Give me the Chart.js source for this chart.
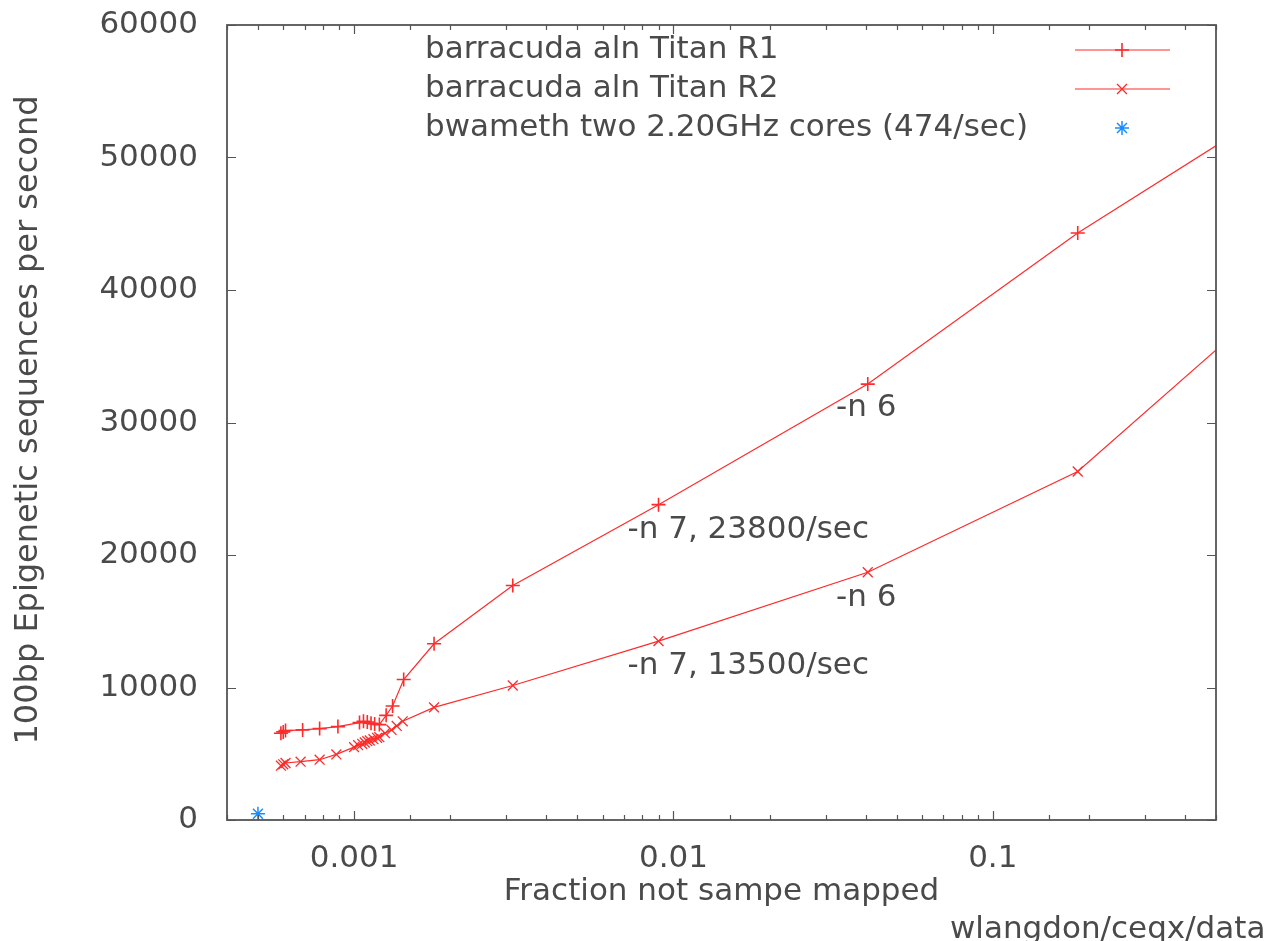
<!DOCTYPE html>
<html>
<head>
<meta charset="utf-8">
<script src="https://cdn.jsdelivr.net/npm/chart.js@4.4.1/dist/chart.umd.min.js"></script>
<style>
  html, body { margin: 0; padding: 0; background: #fff; }
</style>
</head>
<body>
<canvas id="chart" width="1278" height="941"></canvas>
<script>
// fraction of reads not mapped the same way, and sequences per second
const r1Frac = [0.00059, 0.0006, 0.00061, 0.00069, 0.00078, 0.00089, 0.00104, 0.00107, 0.0011, 0.00113, 0.00116, 0.0012, 0.00126, 0.00132, 0.00143, 0.00178, 0.00314, 0.00898, 0.0406, 0.1845, 0.8]
const r1Rate = [6550, 6650, 6750, 6800, 6900, 7050, 7350, 7450, 7400, 7300, 7250, 7200, 7900, 8600, 10600, 13300, 17700, 23800, 32900, 44300, 54000]

const r2Frac = [0.00059, 0.0006, 0.00061, 0.00068, 0.00078, 0.00088, 0.001, 0.00103, 0.00106, 0.00108, 0.0011, 0.00112, 0.00115, 0.00118, 0.0012, 0.00125, 0.00131, 0.00136, 0.00142, 0.00178, 0.00314, 0.00898, 0.0406, 0.1845, 0.8]
const r2Rate = [4100, 4200, 4300, 4400, 4550, 4950, 5500, 5650, 5750, 5850, 5950, 6000, 6100, 6200, 6250, 6550, 6800, 7100, 7450, 8500, 10150, 13500, 18700, 26300, 39800]

const bwaFrac = [0.0005]
const bwaRate = [474]

const seriesNames = ['barracuda aln Titan R1', 'barracuda aln Titan R2', 'bwameth two 2.20GHz cores (474/sec)']

const noteText = ['-n 6', '-n 7, 23800/sec', '-n 6', '-n 7, 13500/sec']
const noteFrac = [0.0323, 0.00718, 0.0323, 0.00718]
const noteRate = [31100, 21900, 16750, 11600]

const xTitle = 'Fraction not sampe mapped'
const yTitle = '100bp Epigenetic sequences per second'
const footText = 'wlangdon/ceqx/data'

const FONT = '"DejaVu Sans", sans-serif'
const TEXT = '#4a4a4a'
const RED = '#ff2a2a'
const BLUE = '#1a8cff'

function pts(xs, ys) { return xs.map((x, i) => ({ x, y: ys[i] })) }

function isDecade(v) {
  const l = Math.log10(v)
  return Math.abs(l - Math.round(l)) < 1e-6
}

const framePlugin = {
  id: 'frame',
  afterDatasetsDraw(chart) {
    const { ctx, chartArea: a, scales } = chart
    ctx.save()
    ctx.strokeStyle = '#555'
    ctx.lineWidth = 1.2
    ctx.beginPath()
    scales.x.ticks.forEach(t => {
      const px = Math.round(scales.x.getPixelForValue(t.value)) + 0.5
      const len = isDecade(t.value) ? 9 : 5
      ctx.moveTo(px, a.bottom); ctx.lineTo(px, a.bottom - len)
      ctx.moveTo(px, a.top); ctx.lineTo(px, a.top + len)
    })
    scales.y.ticks.forEach(t => {
      const py = Math.round(scales.y.getPixelForValue(t.value)) + 0.5
      ctx.moveTo(a.left, py); ctx.lineTo(a.left + 9, py)
      ctx.moveTo(a.right, py); ctx.lineTo(a.right - 9, py)
    })
    ctx.stroke()
    ctx.lineWidth = 1.8
    ctx.strokeRect(a.left, a.top, a.right - a.left, a.bottom - a.top)

    // notes placed at data coordinates
    ctx.fillStyle = TEXT
    ctx.font = '31px ' + FONT
    ctx.textAlign = 'left'
    ctx.textBaseline = 'middle'
    noteText.forEach((s, i) => {
      ctx.fillText(s, scales.x.getPixelForValue(noteFrac[i]), scales.y.getPixelForValue(noteRate[i]))
    })

    // legend
    const rows = [50, 89, 128]
    chart.data.datasets.forEach((ds, i) => {
      ctx.fillStyle = TEXT
      ctx.textBaseline = 'middle'
      ctx.fillText(ds.label, 425, rows[i])
      ctx.strokeStyle = ds.borderColor
      ctx.fillStyle = ds.borderColor
      if (ds.showLine) {
        ctx.lineWidth = ds.borderWidth
        ctx.beginPath()
        ctx.moveTo(1075, rows[i]); ctx.lineTo(1170, rows[i])
        ctx.stroke()
      }
      ctx.lineWidth = ds.pointBorderWidth
      Chart.helpers.drawPoint(ctx, {
        pointStyle: ds.pointStyle, radius: ds.pointRadius, borderWidth: ds.pointBorderWidth
      }, 1122, rows[i])
    })

    // axis titles
    ctx.fillStyle = TEXT
    ctx.textAlign = 'center'
    ctx.textBaseline = 'alphabetic'
    ctx.fillText(xTitle, (a.left + a.right) / 2, 900)
    ctx.textAlign = 'left'
    ctx.fillText(footText, 950, 938)
    ctx.font = '32px ' + FONT
    ctx.translate(37, 420)
    ctx.rotate(-Math.PI / 2)
    ctx.textAlign = 'center'
    ctx.fillText(yTitle, 0, 0)
    ctx.restore()
  }
}

new Chart(document.getElementById('chart'), {
  type: 'scatter',
  data: {
    datasets: [
      { label: seriesNames[0], data: pts(r1Frac, r1Rate), showLine: true, borderColor: RED, backgroundColor: RED,
        borderWidth: 1.2, pointStyle: 'cross', pointRadius: 7, pointBorderWidth: 1.6 },
      { label: seriesNames[1], data: pts(r2Frac, r2Rate), showLine: true, borderColor: RED, backgroundColor: RED,
        borderWidth: 1.2, pointStyle: 'crossRot', pointRadius: 7, pointBorderWidth: 1.3 },
      { label: seriesNames[2], data: pts(bwaFrac, bwaRate), showLine: false, borderColor: BLUE, backgroundColor: BLUE,
        borderWidth: 1.5, pointStyle: 'star', pointRadius: 7, pointBorderWidth: 1.5 },
    ],
  },
  options: {
    responsive: false,
    animation: false,
    layout: { padding: { top: 25, right: 62, left: 0, bottom: 0 } },
    plugins: { legend: { display: false }, tooltip: { enabled: false } },
    scales: {
      x: {
        type: 'logarithmic', min: 0.0004, max: 0.5,
        grid: { display: false, drawTicks: false }, border: { display: false },
        afterFit: s => { s.height = 121; s.paddingLeft = 0; s.paddingRight = 0 },
        ticks: {
          autoSkip: false, maxRotation: 0, padding: 20, color: TEXT, font: { family: FONT, size: 31 },
          callback: v => isDecade(v) ? String(Number(v.toPrecision(1))) : '',
        },
      },
      y: {
        min: 0, max: 60000,
        grid: { display: false, drawTicks: false }, border: { display: false },
        afterFit: s => { s.width = 227; s.paddingTop = 0; s.paddingBottom = 0 },
        ticks: { stepSize: 10000, padding: 29, color: TEXT, font: { family: FONT, size: 31 }, callback: v => String(v) },
      },
    },
  },
  plugins: [framePlugin],
})
</script>
</body>
</html>
